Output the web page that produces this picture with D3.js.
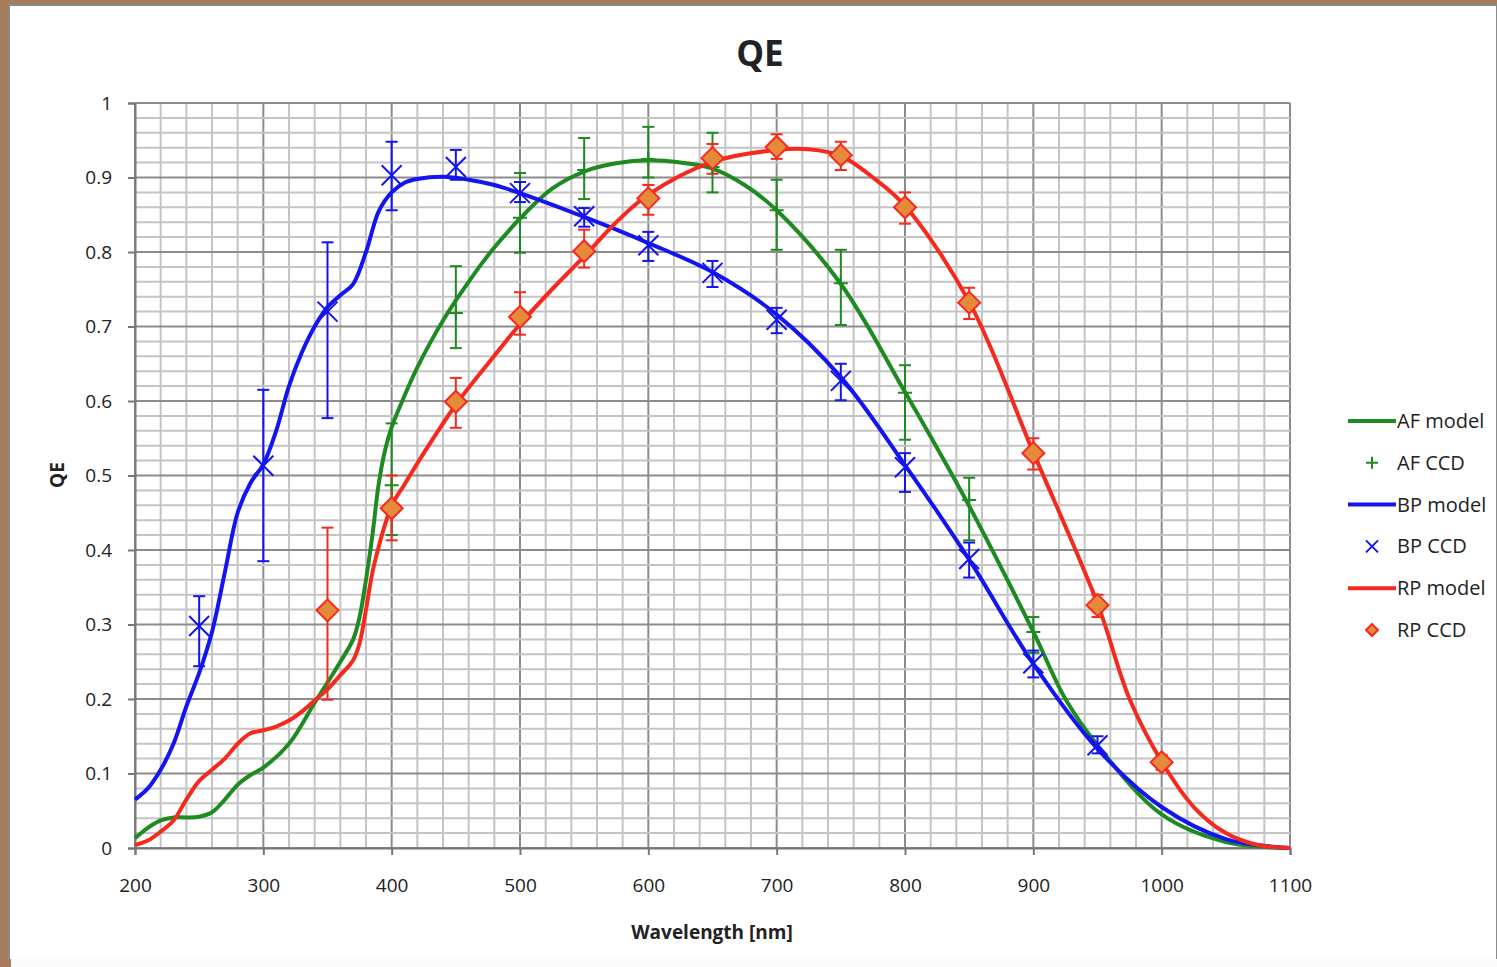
<!DOCTYPE html>
<html>
<head>
<meta charset="utf-8">
<script src="https://cdn.jsdelivr.net/npm/d3@7"></script>
<style>
body { margin:0; background:#a67c5d; }
svg text { font-family:"Open Sans", sans-serif; fill:#222; }
</style>
</head>
<body>
<script>
// model curves
var bpWl  = [200,210,220,230,240,250,260,270,280,290,300,310,320,330,340,350,360,370,380,390,400,410,420,440,460,480,500,550,600,650,700,750,800,850,900,950,1000,1050,1100];
var bpQe  = [0.065,0.08,0.105,0.14,0.19,0.235,0.29,0.37,0.45,0.49,0.515,0.56,0.62,0.665,0.70,0.726,0.742,0.757,0.80,0.855,0.88,0.893,0.898,0.901,0.897,0.89,0.879,0.847,0.812,0.773,0.716,0.632,0.514,0.387,0.247,0.133,0.055,0.012,0];

var afWl  = [200,210,220,230,240,250,260,270,280,290,300,320,340,350,360,370,375,380,385,390,395,400,410,420,430,440,450,460,470,480,490,500,525,550,575,600,625,650,675,700,750,800,850,900,925,950,1000,1050,1100];
var afQe  = [0.013,0.027,0.037,0.041,0.041,0.042,0.048,0.065,0.085,0.098,0.108,0.14,0.195,0.222,0.25,0.28,0.31,0.36,0.42,0.49,0.535,0.565,0.607,0.645,0.678,0.708,0.735,0.76,0.784,0.806,0.826,0.845,0.885,0.908,0.919,0.923,0.92,0.912,0.89,0.856,0.757,0.612,0.459,0.29,0.2,0.138,0.045,0.008,0];

var rpWl  = [200,210,220,230,240,250,260,270,280,290,300,310,320,330,340,350,360,370,375,380,385,390,395,400,410,425,450,475,500,525,550,575,600,650,700,725,750,775,800,850,900,950,975,1000,1025,1050,1075,1100];
var rpQe  = [0.004,0.01,0.022,0.037,0.065,0.09,0.105,0.12,0.14,0.154,0.158,0.163,0.171,0.183,0.198,0.213,0.232,0.252,0.275,0.32,0.37,0.405,0.435,0.46,0.488,0.53,0.595,0.65,0.703,0.75,0.794,0.84,0.877,0.921,0.937,0.938,0.929,0.9,0.862,0.733,0.531,0.328,0.2,0.116,0.055,0.02,0.004,0];

// measured CCD points with error bars
var afCcdWl = [400,450,500,550,600,650,700,750,800,850,900];
var afCcd   = [0.487,0.718,0.846,0.91,0.925,0.914,0.856,0.758,0.611,0.467,0.29];
var afLo    = [0.42,0.671,0.799,0.871,0.9,0.88,0.803,0.702,0.548,0.413,0.262];
var afHi    = [0.57,0.781,0.906,0.953,0.968,0.96,0.897,0.803,0.648,0.497,0.31];

var bpCcdWl = [250,300,350,400,450,500,550,600,650,700,750,800,850,900,950];
var bpCcd   = [0.298,0.513,0.72,0.903,0.914,0.879,0.848,0.809,0.772,0.709,0.627,0.511,0.388,0.248,0.138];
var bpLo    = [0.244,0.385,0.577,0.856,0.897,0.867,0.834,0.788,0.753,0.691,0.601,0.478,0.363,0.229,0.127];
var bpHi    = [0.338,0.615,0.813,0.948,0.937,0.894,0.859,0.827,0.788,0.725,0.65,0.53,0.41,0.265,0.15];

var rpCcdWl = [350,400,450,500,550,600,650,700,750,800,850,900,950,1000];
var rpCcd   = [0.319,0.456,0.599,0.713,0.801,0.872,0.926,0.941,0.930,0.860,0.732,0.530,0.326,0.115];
var rpLo    = [0.199,0.413,0.564,0.689,0.779,0.85,0.905,0.925,0.91,0.838,0.71,0.508,0.31,0.105];
var rpHi    = [0.43,0.5,0.631,0.746,0.83,0.89,0.945,0.958,0.948,0.88,0.752,0.55,0.34,0.125];

var xTicks = [200,300,400,500,600,700,800,900,1000,1100];
var yTicks = [0,0.1,0.2,0.3,0.4,0.5,0.6,0.7,0.8,0.9,1];
var legendNames = ["AF model","AF CCD","BP model","BP CCD","RP model","RP CCD"];

var width = 1497, height = 967;
var cGreen = "#1e8a22", cBlue = "#1414f0", cRed = "#f52a1e", cOrange = "#e58a3a";

var svg = d3.select("body").append("svg").attr("width", width).attr("height", height);

// page frame
svg.append("rect").attr("x",9).attr("y",5).attr("width",width-9).attr("height",955)
  .attr("fill","#fff").attr("stroke","#8a8a8a").attr("stroke-width",2);
svg.append("rect").attr("x",11).attr("y",959).attr("width",width).attr("height",8).attr("fill","#fbfbfb");

var x = d3.scaleLinear().domain([200,1100]).range([135,1290]);
var y = d3.scaleLinear().domain([0,1]).range([848,103]);

// grid
var g = svg.append("g");
g.selectAll(".vmin").data(d3.range(200,1101,20)).enter().append("line")
  .attr("x1",function(d){return x(d);}).attr("x2",function(d){return x(d);})
  .attr("y1",y(0)).attr("y2",y(1))
  .attr("stroke",function(d){return d%100==0 ? "#8c8c8c" : "#c4c4c4";})
  .attr("stroke-width",2);
g.selectAll(".hmin").data(d3.range(0,51)).enter().append("line")
  .attr("x1",x(200)).attr("x2",x(1100))
  .attr("y1",function(d){return y(d/50);}).attr("y2",function(d){return y(d/50);})
  .attr("stroke",function(d){return d%5==0 ? "#8c8c8c" : "#c4c4c4";})
  .attr("stroke-width",2);

// axes
var ax = svg.append("g").attr("transform","translate(0,"+y(0)+")")
  .call(d3.axisBottom(x).tickValues(xTicks).tickSize(7).tickPadding(24).tickFormat(d3.format("d")));
var ay = svg.append("g").attr("transform","translate("+x(200)+",0)")
  .call(d3.axisLeft(y).tickValues(yTicks).tickSize(7).tickPadding(16).tickFormat(function(d){return d;}));
[ax,ay].forEach(function(a){
  a.select(".domain").attr("stroke","#777").attr("stroke-width",2);
  a.selectAll(".tick line").attr("stroke","#777").attr("stroke-width",2);
  a.selectAll(".tick text").style("font-size","19px").attr("fill","#333");
});

// model lines
var line = d3.line().curve(d3.curveCatmullRom.alpha(0.5))
  .x(function(d){return x(d[0]);}).y(function(d){return y(d[1]);});
function drawModel(wl, qe, col){
  svg.append("path").datum(d3.zip(wl, qe)).attr("d", line)
    .attr("fill","none").attr("stroke",col).attr("stroke-width",4);
}
drawModel(afWl, afQe, cGreen);
drawModel(bpWl, bpQe, cBlue);
drawModel(rpWl, rpQe, cRed);

// error bars
function errBars(wl, lo, hi, col){
  var eg = svg.append("g").attr("stroke",col).attr("stroke-width",2);
  var data = d3.zip(wl, lo, hi);
  eg.selectAll(".v").data(data).enter().append("line")
    .attr("x1",function(d){return x(d[0]);}).attr("x2",function(d){return x(d[0]);})
    .attr("y1",function(d){return y(d[1]);}).attr("y2",function(d){return y(d[2]);});
  [1,2].forEach(function(k){
    eg.selectAll(".c"+k).data(data).enter().append("line")
      .attr("x1",function(d){return x(d[0])-6;}).attr("x2",function(d){return x(d[0])+6;})
      .attr("y1",function(d){return y(d[k]);}).attr("y2",function(d){return y(d[k]);});
  });
}
errBars(afCcdWl, afLo, afHi, cGreen);
errBars(bpCcdWl, bpLo, bpHi, cBlue);
errBars(rpCcdWl, rpLo, rpHi, cRed);

// markers
function markAF(sel, s){
  sel.append("path").attr("d","M"+(-s)+",0H"+s+"M0,"+(-s)+"V"+s)
    .attr("stroke",cGreen).attr("stroke-width",2).attr("fill","none");
}
function markBP(sel, s){
  sel.append("path").attr("d","M"+(-s)+","+(-s)+"L"+s+","+s+"M"+(-s)+","+s+"L"+s+","+(-s))
    .attr("stroke",cBlue).attr("stroke-width",2).attr("fill","none");
}
function markRP(sel, s){
  sel.append("path").attr("d","M0,"+(-s)+"L"+s+",0L0,"+s+"L"+(-s)+",0Z")
    .attr("stroke",cRed).attr("stroke-width",2).attr("fill",cOrange);
}
d3.zip(afCcdWl, afCcd).forEach(function(d){
  markAF(svg.append("g").attr("transform","translate("+x(d[0])+","+y(d[1])+")"), 7);
});
d3.zip(bpCcdWl, bpCcd).forEach(function(d){
  markBP(svg.append("g").attr("transform","translate("+x(d[0])+","+y(d[1])+")"), 10);
});
d3.zip(rpCcdWl, rpCcd).forEach(function(d){
  markRP(svg.append("g").attr("transform","translate("+x(d[0])+","+y(d[1])+")"), 11);
});

// titles
svg.append("text").attr("x",760).attr("y",66).attr("text-anchor","middle")
  .style("font-size","35px").style("font-weight","bold").attr("fill","#111").text("QE");
svg.append("text").attr("transform","translate(64,475) rotate(-90)").attr("text-anchor","middle")
  .style("font-size","19px").style("font-weight","bold").attr("fill","#222").text("QE");
svg.append("text").attr("x",712).attr("y",939).attr("text-anchor","middle")
  .style("font-size","19px").style("font-weight","bold").attr("fill","#222").text("Wavelength [nm]");

// legend
var lg = svg.append("g").attr("transform","translate(1348,421)");
legendNames.forEach(function(n,i){
  var row = lg.append("g").attr("transform","translate(0,"+(i*41.8)+")");
  var col = [cGreen,cGreen,cBlue,cBlue,cRed,cRed][i];
  if (i%2==0) {
    row.append("line").attr("x1",0).attr("x2",48).attr("y1",0).attr("y2",0)
      .attr("stroke",col).attr("stroke-width",4);
  } else {
    var m = row.append("g").attr("transform","translate(24,0)");
    if (i==1) markAF(m,6); else if (i==3) markBP(m,6); else markRP(m,6);
  }
  row.append("text").attr("x",49).attr("y",7).style("font-size","20px").attr("fill","#333").text(n);
});
</script>
</body>
</html>
